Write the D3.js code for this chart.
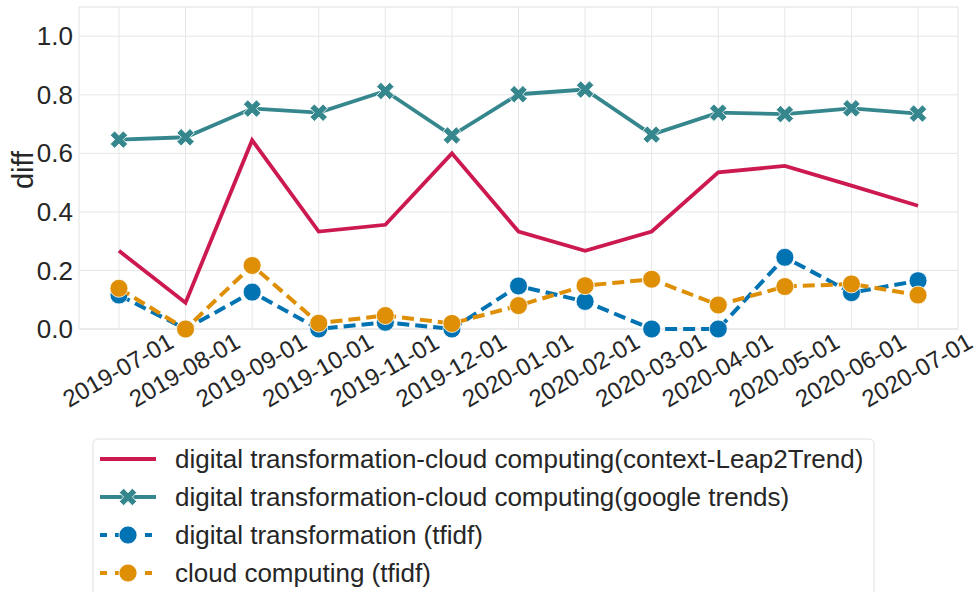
<!DOCTYPE html>
<html>
<head>
<meta charset="utf-8">
<script src="https://cdn.jsdelivr.net/npm/d3@7"></script>
<style>
  body { margin: 0; background: #fff; }
  text { font-family: "Liberation Sans", Arial, sans-serif; fill: #262626; }
</style>
</head>
<body>
<script>
// Chart data
const dates = ["2019-07-01", "2019-08-01", "2019-09-01", "2019-10-01", "2019-11-01", "2019-12-01",
  "2020-01-01", "2020-02-01", "2020-03-01", "2020-04-01", "2020-05-01", "2020-06-01", "2020-07-01"];
const leap2trend = [0.267, 0.09, 0.645, 0.333, 0.356, 0.6, 0.333, 0.267, 0.333, 0.535, 0.557, 0.49, 0.421];
const googleTrends = [0.647, 0.655, 0.753, 0.739, 0.813, 0.661, 0.802, 0.818, 0.664, 0.739, 0.734, 0.754, 0.736];
const dtTfidf = [0.116, 0.0, 0.126, 0.0, 0.023, 0.0, 0.147, 0.094, 0.0, 0.0, 0.245, 0.124, 0.165];
const ccTfidf = [0.139, 0.0, 0.217, 0.02, 0.046, 0.019, 0.08, 0.148, 0.17, 0.082, 0.145, 0.154, 0.116];
const yTicks = [0.0, 0.2, 0.4, 0.6, 0.8, 1.0];

const series = [
  { name: "digital transformation-cloud computing(context-Leap2Trend)", values: leap2trend, color: "#cc1a50", dash: null, marker: null },
  { name: "digital transformation-cloud computing(google trends)", values: googleTrends, color: "#35878d", dash: null, marker: "x" },
  { name: "digital transformation (tfidf)", values: dtTfidf, color: "#0173b2", dash: "12,6", marker: "o" },
  { name: "cloud computing (tfidf)", values: ccTfidf, color: "#de8f05", dash: "12,6", marker: "o" }
];

const width = 977;
const height = 592;
const margin = { left: 79, right: 19, top: 7, bottom: 263 };

const svg = d3.select("body").append("svg")
  .attr("width", width)
  .attr("height", height);

const x = d3.scalePoint()
  .domain(dates)
  .range([margin.left, width - margin.right])
  .padding(0.6);

const y = d3.scaleLinear()
  .domain([0, 1.1])
  .range([height - margin.bottom, margin.top]);

// Grid lines
svg.append("g")
  .selectAll("line")
  .data(yTicks)
  .join("line")
  .attr("x1", margin.left).attr("x2", width - margin.right)
  .attr("y1", d => y(d)).attr("y2", d => y(d))
  .attr("stroke", "#e6e6e6").attr("stroke-width", 1);

svg.append("g")
  .selectAll("line")
  .data(dates)
  .join("line")
  .attr("x1", d => x(d)).attr("x2", d => x(d))
  .attr("y1", margin.top).attr("y2", height - margin.bottom)
  .attr("stroke", "#e6e6e6").attr("stroke-width", 1);

// Axes frame
svg.append("rect")
  .attr("x", margin.left).attr("y", margin.top)
  .attr("width", width - margin.left - margin.right)
  .attr("height", height - margin.top - margin.bottom)
  .attr("fill", "none")
  .attr("stroke", "#e6e6e6").attr("stroke-width", 1.2);

// Y tick labels
svg.append("g")
  .selectAll("text")
  .data(yTicks)
  .join("text")
  .attr("x", margin.left - 6)
  .attr("y", d => y(d))
  .attr("dy", "0.35em")
  .attr("text-anchor", "end")
  .attr("font-size", 26)
  .text(d => d.toFixed(1));

// Y axis label
svg.append("text")
  .attr("transform", `translate(33, ${(margin.top + height - margin.bottom) / 2 + 2}) rotate(-90)`)
  .attr("text-anchor", "middle")
  .attr("font-size", 29)
  .text("diff");

// X tick labels rotated 30 degrees, centered under gridline
svg.append("g")
  .selectAll("text")
  .data(dates)
  .join("text")
  .attr("transform", d => `translate(${x(d) - 1}, 370) rotate(-30)`)
  .attr("text-anchor", "middle")
  .attr("dy", "0.35em")
  .attr("font-size", 24)
  .text(d => d);

// Lines
const line = d3.line()
  .x((d, i) => x(dates[i]))
  .y(d => y(d));

const xPath = d3.symbol(d3.symbolCross, 190)();

function drawMarker(g, s, cx, cy) {
  if (s.marker === "o") {
    g.append("circle")
      .attr("cx", cx).attr("cy", cy).attr("r", 9)
      .attr("fill", s.color)
      .attr("stroke", "#fff").attr("stroke-width", 0.8);
  } else if (s.marker === "x") {
    g.append("path")
      .attr("d", xPath)
      .attr("transform", `translate(${cx},${cy}) rotate(45)`)
      .attr("fill", s.color)
      .attr("stroke", "#fff").attr("stroke-width", 0.8);
  }
}

const plot = svg.append("g");
series.forEach(s => {
  const g = plot.append("g");
  g.append("path")
    .datum(s.values)
    .attr("d", line)
    .attr("fill", "none")
    .attr("stroke", s.color)
    .attr("stroke-width", s.dash ? 4 : 3.8)
    .attr("stroke-dasharray", s.dash);
  s.values.forEach((v, i) => drawMarker(g, s, x(dates[i]), y(v)));
});

// Legend
const legend = svg.append("g");
legend.append("rect")
  .attr("x", 93).attr("y", 439)
  .attr("width", 781).attr("height", 170)
  .attr("rx", 5)
  .attr("fill", "#fff")
  .attr("stroke", "#e0e0e0").attr("stroke-width", 1);

series.forEach((s, i) => {
  const cy = 459 + i * 38;
  const g = legend.append("g");
  g.append("line")
    .attr("x1", 100).attr("x2", 156)
    .attr("y1", cy).attr("y2", cy)
    .attr("stroke", s.color)
    .attr("stroke-width", s.dash ? 4 : 3.8)
    .attr("stroke-dasharray", s.dash ? "7,8" : null);
  drawMarker(g, s, 128, cy);
  g.append("text")
    .attr("x", 175).attr("y", cy)
    .attr("dy", "0.35em")
    .attr("font-size", 26)
    .text(s.name);
});
</script>
</body>
</html>
